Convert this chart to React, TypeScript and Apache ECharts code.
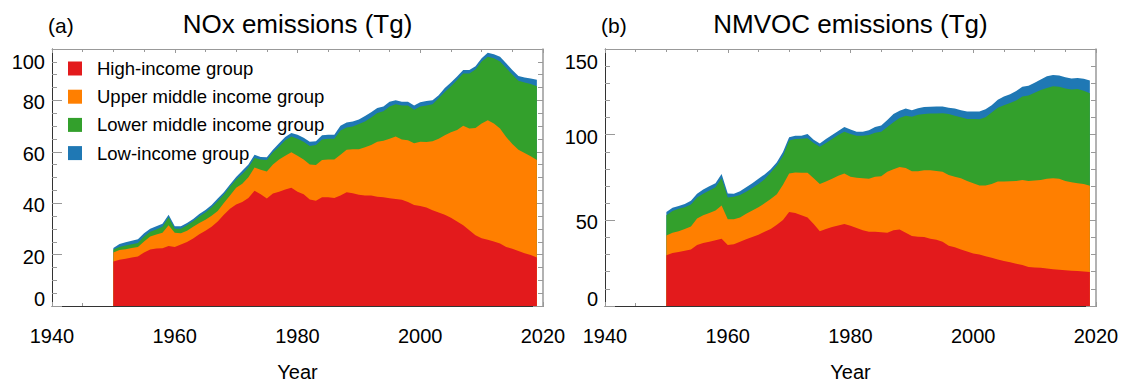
import React, { useEffect, useRef } from "react";
import * as echarts from "echarts";

const years = [
  1950, 1951, 1952, 1953, 1954, 1955, 1956, 1957, 1958, 1959,
  1960, 1961, 1962, 1963, 1964, 1965, 1966, 1967, 1968, 1969,
  1970, 1971, 1972, 1973, 1974, 1975, 1976, 1977, 1978, 1979,
  1980, 1981, 1982, 1983, 1984, 1985, 1986, 1987, 1988, 1989,
  1990, 1991, 1992, 1993, 1994, 1995, 1996, 1997, 1998, 1999,
  2000, 2001, 2002, 2003, 2004, 2005, 2006, 2007, 2008, 2009,
  2010, 2011, 2012, 2013, 2014, 2015, 2016, 2017, 2018, 2019,
];

const groupNames = [
  "High-income group",
  "Upper middle income group",
  "Lower middle income group",
  "Low-income group",
];
const groupColors = ["#e31a1c", "#ff7f00", "#33a02c", "#1f78b4"];

// NOx (Tg): cumulative stack tops
const noxHigh = [
  17.3, 18.0, 18.4, 18.9, 19.3, 20.8, 22.0, 22.4, 22.5, 23.3,
  23.0, 23.9, 24.9, 26.3, 27.9, 29.3, 30.8, 32.9, 35.5, 37.8,
  39.5, 40.5, 42.0, 44.8, 43.5, 41.8, 43.8, 44.5, 45.3, 46.0,
  44.5, 43.5, 41.4, 41.0, 42.3, 42.3, 42.0, 43.0, 44.3, 43.9,
  43.3, 43.0, 43.0, 42.5, 42.3, 41.9, 41.6, 41.3, 40.5, 39.3,
  38.9, 38.3, 37.3, 36.4, 35.5, 34.3, 32.9, 31.4, 29.5, 27.5,
  26.4, 25.8, 25.1, 24.3, 23.0, 22.3, 21.4, 20.5, 19.8, 18.9,
];
const noxHighUpper = [
  20.8, 21.8, 22.1, 22.6, 23.0, 25.1, 27.0, 27.8, 28.5, 31.4,
  28.5, 28.3, 29.3, 30.8, 32.3, 33.6, 35.1, 37.0, 40.1, 43.0,
  46.0, 47.6, 50.1, 53.9, 53.0, 52.3, 55.1, 57.0, 58.5, 59.8,
  58.5, 57.0, 55.1, 54.9, 56.8, 57.0, 57.0, 58.9, 60.8, 61.0,
  61.0, 61.8, 62.6, 63.9, 64.3, 65.1, 66.0, 64.8, 64.5, 63.3,
  63.9, 63.8, 64.1, 65.1, 66.4, 67.6, 68.5, 70.1, 69.1, 69.3,
  71.0, 72.3, 71.0, 69.1, 65.8, 63.0, 60.8, 59.5, 58.3, 56.8,
];
const noxHighUpperLower = [
  22.0, 23.0, 23.5, 24.0, 24.5, 27.0, 28.9, 29.8, 30.8, 34.5,
  30.1, 30.1, 31.4, 33.0, 34.8, 36.4, 38.3, 40.8, 43.3, 46.4,
  49.2, 51.4, 53.9, 57.6, 57.0, 56.8, 59.8, 62.0, 64.5, 66.0,
  65.1, 63.9, 62.3, 62.6, 64.8, 65.1, 65.1, 68.3, 69.5, 69.8,
  70.8, 71.8, 73.3, 75.1, 75.8, 77.6, 78.5, 78.0, 78.0, 76.4,
  77.6, 78.0, 78.5, 80.8, 83.3, 85.5, 87.9, 90.5, 90.5, 92.0,
  95.1, 97.0, 96.4, 95.1, 92.6, 90.1, 87.6, 87.0, 86.4, 85.5,
];
const noxTotal = [
  22.6, 24.1, 24.8, 25.4, 26.0, 28.3, 30.1, 31.0, 32.0, 35.5,
  31.0, 31.0, 32.3, 33.9, 35.8, 37.4, 39.3, 41.8, 44.3, 47.3,
  50.2, 52.6, 55.1, 58.9, 58.0, 57.9, 60.8, 63.3, 65.8, 67.3,
  66.6, 65.5, 63.9, 64.1, 66.4, 66.6, 66.6, 70.1, 71.4, 71.8,
  72.6, 73.9, 75.4, 77.0, 77.6, 79.5, 80.1, 79.5, 79.5, 78.0,
  79.3, 79.8, 80.1, 82.0, 84.8, 87.0, 89.3, 91.8, 91.8, 93.3,
  96.4, 98.5, 98.0, 97.0, 94.5, 91.8, 89.5, 88.9, 88.5, 88.0,
];

// NMVOC (Tg): cumulative stack tops
const vocHigh = [
  29.6, 30.9, 31.5, 32.2, 33.0, 35.6, 36.7, 37.5, 38.4, 39.3,
  35.6, 36.1, 37.5, 39.0, 40.3, 41.6, 43.3, 44.9, 47.4, 50.2,
  54.9, 54.3, 53.0, 51.7, 47.9, 43.6, 44.9, 46.1, 47.0, 47.8,
  46.8, 45.5, 44.2, 43.4, 43.3, 43.1, 42.7, 44.2, 44.6, 42.7,
  40.8, 40.4, 40.3, 39.3, 38.6, 37.5, 35.2, 34.3, 33.0, 31.8,
  30.7, 30.0, 29.0, 28.1, 27.2, 26.2, 25.5, 24.7, 24.0, 22.7,
  22.5, 22.3, 21.9, 21.5, 21.2, 20.8, 20.6, 20.4, 20.2, 19.8,
];
const vocHighUpper = [
  41.2, 42.7, 43.6, 44.9, 46.4, 51.1, 53.0, 54.3, 55.8, 58.6,
  50.6, 50.6, 51.7, 53.9, 55.8, 57.7, 59.9, 62.4, 65.2, 70.8,
  77.3, 77.9, 77.7, 77.7, 74.5, 71.2, 72.7, 74.2, 76.0, 77.3,
  75.5, 74.9, 74.5, 74.2, 75.5, 75.8, 78.3, 79.8, 81.1, 80.5,
  78.7, 78.7, 79.2, 79.2, 78.8, 78.3, 76.4, 75.5, 74.5, 73.0,
  71.7, 70.4, 70.4, 71.2, 72.7, 72.7, 72.8, 73.0, 73.6, 73.0,
  73.2, 73.6, 74.2, 74.5, 74.2, 73.0, 72.3, 71.7, 71.2, 70.2,
];
const vocHighUpperLower = [
  53.0, 55.4, 56.7, 57.7, 59.2, 63.3, 65.5, 67.4, 69.3, 74.5,
  63.3, 63.7, 64.8, 66.7, 68.9, 71.2, 74.0, 77.9, 82.0, 87.6,
  96.6, 97.4, 97.6, 97.9, 95.1, 92.9, 95.1, 97.4, 99.8, 101.7,
  100.4, 99.3, 99.3, 99.8, 101.1, 101.7, 104.5, 107.3, 109.7, 111.0,
  110.5, 111.6, 112.0, 112.4, 112.4, 112.5, 112.0, 111.0, 110.1, 109.2,
  109.2, 109.0, 110.1, 112.9, 115.7, 117.2, 118.5, 120.0, 122.3, 122.8,
  124.5, 126.0, 127.3, 128.3, 127.9, 127.0, 126.4, 126.6, 125.7, 124.2,
];
const vocTotal = [
  54.9, 57.3, 58.4, 59.6, 61.4, 65.5, 68.0, 69.9, 71.7, 77.0,
  65.7, 65.5, 67.0, 69.3, 71.7, 74.2, 76.8, 79.8, 83.9, 89.9,
  98.5, 99.3, 99.4, 100.4, 97.0, 94.8, 97.4, 99.8, 102.2, 104.5,
  103.0, 101.7, 101.7, 102.6, 104.5, 105.4, 108.6, 112.0, 113.9, 115.2,
  114.2, 115.4, 116.1, 116.3, 116.5, 116.5, 115.7, 115.2, 114.2, 113.5,
  113.5, 113.5, 114.8, 117.2, 120.4, 122.3, 123.6, 125.5, 127.9, 128.5,
  130.3, 132.2, 134.1, 134.8, 134.5, 133.5, 132.8, 133.1, 132.6, 131.6,
];

const panels = [
  { tag: "(a)", title: "NOx emissions (Tg)", yMax: 100, yStep: 20, yMinor: 4,
    stacks: [noxHigh, noxHighUpper, noxHighUpperLower, noxTotal] },
  { tag: "(b)", title: "NMVOC emissions (Tg)", yMax: 150, yStep: 50, yMinor: 5,
    stacks: [vocHigh, vocHighUpper, vocHighUpperLower, vocTotal] },
];

const FONT = "'Liberation Sans', Arial, Helvetica, sans-serif";
const GRID_LEFT = [52, 605];
const GRID_TOP = 49;
const GRID_W = 491;
const GRID_H = 266;

export default function App() {
  const ref = useRef<HTMLDivElement>(null);

  useEffect(() => {
    if (!ref.current) return;
    const chart = echarts.init(ref.current, undefined, { renderer: "svg" });

    const grids: any[] = [];
    const xAxes: any[] = [];
    const yAxes: any[] = [];
    const series: any[] = [];
    const titles: any[] = [];

    panels.forEach((p, pi) => {
      grids.push({
        left: GRID_LEFT[pi], top: GRID_TOP, width: GRID_W, height: GRID_H,
        show: false, containLabel: false,
      });
      const xBase = {
        type: "value", gridIndex: pi, min: 1940, max: 2020, interval: 20,
        splitLine: { show: false },
        minorTick: { show: true, splitNumber: 4, length: 3, lineStyle: { color: "#999" } },
        axisTick: { show: true, inside: true, length: 4, lineStyle: { color: "#999" } },
      };
      xAxes.push({
        ...xBase, position: "bottom",
        axisLine: { show: true, onZero: false, lineStyle: { color: "#333", width: 1 } },
        axisLabel: {
          show: true, margin: 20, fontSize: 20, color: "#000", fontFamily: FONT,
          formatter: (v: number) => String(v),
        },
        name: "Year", nameLocation: "middle", nameGap: 56,
        nameTextStyle: { fontSize: 20, color: "#000", fontFamily: FONT },
      });
      xAxes.push({
        ...xBase, position: "top",
        axisLine: { show: true, onZero: false, lineStyle: { color: "#999", width: 1 } },
        axisLabel: { show: false },
      });
      const yBase = {
        type: "value", gridIndex: pi, min: 0, max: p.yMax, interval: p.yStep,
        splitLine: { show: false },
        minorTick: { show: true, splitNumber: p.yMinor, length: 5, lineStyle: { color: "#999" } },
        axisTick: { show: true, inside: true, length: 10, lineStyle: { color: "#999" } },
      };
      yAxes.push({
        ...yBase, position: "left",
        axisLine: { show: true, onZero: false, lineStyle: { color: "#333", width: 1 } },
        axisLabel: {
          show: true, margin: 7, fontSize: 20, color: "#000", fontFamily: FONT,
          formatter: (v: number) =>
            v === 0 ? "{lo|0}" : v === p.yMax ? "{hi|" + v + "}" : "{n|" + v + "}",
          rich: {
            lo: { fontSize: 20, fontFamily: FONT, color: "#000", padding: [0, 0, 15, 0] },
            hi: { fontSize: 20, fontFamily: FONT, color: "#000", padding: [25, 0, 0, 0] },
            n: { fontSize: 20, fontFamily: FONT, color: "#000", padding: [4, 0, 0, 0] },
          },
        },
      });
      yAxes.push({
        ...yBase, position: "right",
        axisLine: { show: true, onZero: false, lineStyle: { color: "#999", width: 1.5 } },
        axisLabel: { show: false },
      });

      for (let k = 3; k >= 0; k--) {
        series.push({
          type: "line",
          name: groupNames[k],
          xAxisIndex: pi * 2,
          yAxisIndex: pi * 2,
          data: years.map((y, i) => [y, p.stacks[k][i]]),
          showSymbol: false,
          symbol: "none",
          lineStyle: { width: 0 },
          itemStyle: { color: groupColors[k] },
          areaStyle: { color: groupColors[k], opacity: 1 },
          silent: true,
        });
      }

      titles.push({
        text: p.title, left: GRID_LEFT[pi] + GRID_W / 2, top: 11, textAlign: "center",
        padding: 0,
        textStyle: { fontSize: 26, fontWeight: "normal", color: "#000", fontFamily: FONT },
      });
      titles.push({
        text: p.tag, left: GRID_LEFT[pi] - 4, top: 15, padding: 0,
        textStyle: { fontSize: 21, fontWeight: "normal", color: "#000", fontFamily: FONT },
      });
    });

    chart.setOption({
      animation: false,
      backgroundColor: "#fff",
      title: titles,
      grid: grids,
      xAxis: xAxes,
      yAxis: yAxes,
      series,
      legend: {
        data: groupNames,
        orient: "vertical",
        left: 68,
        top: 59,
        padding: 0,
        itemWidth: 14,
        itemHeight: 14,
        itemGap: 9.2,
        icon: "rect",
        selectedMode: false,
        itemStyle: { borderWidth: 0 },
        textStyle: { fontSize: 18.5, color: "#000", fontFamily: FONT, padding: [0, 0, 0, 10] },
      },
    });

    return () => chart.dispose();
  }, []);

  return (
    <div
      ref={ref}
      style={{ position: "absolute", left: 0, top: 0, width: 1124, height: 387 }}
    />
  );
}
